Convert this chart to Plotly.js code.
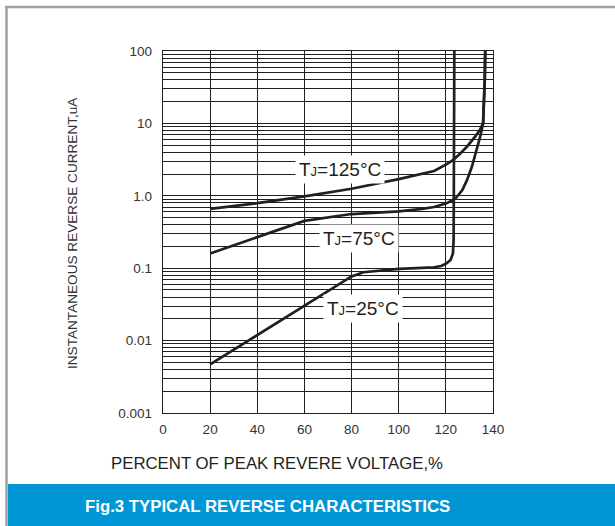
<!DOCTYPE html>
<html>
<head>
<meta charset="utf-8">
<script src="https://cdn.plot.ly/plotly-3.0.1.min.js"></script>
<style>
html,body{margin:0;padding:0;background:#fff;}
#chart{width:615px;height:526px;}
</style>
</head>
<body>
<div id="chart"></div>
<script>
// ---- data ----
var x125 = [20, 40, 60, 80, 100, 110, 115, 120, 123, 126, 129, 132.5, 134.5, 135.8, 136.2, 136.5, 136.7];
var y125 = [0.66, 0.79, 0.98, 1.25, 1.70, 2.0, 2.2, 2.7, 3.1, 3.8, 4.8, 6.6, 8.2, 10, 20, 40, 100];

var x75 = [20, 40, 60, 80, 100, 110, 115, 120, 124, 127, 129, 131, 132.5, 134.6, 135.8, 136.2, 136.5, 136.7];
var y75 = [0.16, 0.27, 0.45, 0.56, 0.61, 0.66, 0.70, 0.78, 0.91, 1.2, 1.66, 2.5, 3.7, 6.6, 10, 20, 40, 100];

var x25 = [20, 40, 60, 80, 85, 100, 110, 115, 118, 120, 122, 123, 123.3, 123.4, 123.5, 123.6];
var y25 = [0.0047, 0.012, 0.030, 0.077, 0.088, 0.098, 0.101, 0.103, 0.107, 0.115, 0.13, 0.16, 0.25, 1, 10, 100];

var xTicks = [0, 20, 40, 60, 80, 100, 120, 140];
var yDecades = [0.001, 0.01, 0.1, 1, 10, 100];
var yDecadeLabels = ['0.001', '0.01', '0.1', '1.0', '10', '100'];
var minorDigits = [2, 3, 4, 5, 6, 7, 8, 9];

var curveLabels = ['T<span style="font-size:13px">J</span>=125°C',
                   'T<span style="font-size:13px">J</span>=75°C',
                   'T<span style="font-size:13px">J</span>=25°C'];
var labelX = [75, 83, 85];
var labelY = [2.28, 0.255, 0.0275];

// grid positions for the log axis (decades plus 2..9 within each decade)
var yGridVals = [], yGridText = [];
yDecades.forEach(function (d, i) {
  yGridVals.push(d); yGridText.push(yDecadeLabels[i]);
  if (d < 100) minorDigits.forEach(function (m) { yGridVals.push(d * m); yGridText.push(''); });
});

var lineStyle = {color: '#231f20', width: 2.7};
var traces = [
  {x: x125, y: y125, mode: 'lines', line: lineStyle, hoverinfo: 'skip'},
  {x: x75, y: y75, mode: 'lines', line: lineStyle, hoverinfo: 'skip'},
  {x: x25, y: y25, mode: 'lines', line: lineStyle, hoverinfo: 'skip'}
];

var L = 163, R = 493, T = 51, B = 413, W = 615, H = 526;
function px(p) { return (p - L) / (R - L); }
function py(p) { return (B - p) / (B - T); }

var annotations = [];
curveLabels.forEach(function (t, i) {
  annotations.push({x: labelX[i], y: Math.log10(labelY[i]), xref: 'x', yref: 'y', text: t,
    showarrow: false, bgcolor: '#ffffff', borderpad: 3,
    font: {family: 'Liberation Sans, Arial, sans-serif', size: 19, color: '#231f20'}});
});
annotations.push({xref: 'paper', yref: 'paper', x: px(73), y: py(233), textangle: -90,
  text: 'INSTANTANEOUS REVERSE CURRENT,uA', showarrow: false, xanchor: 'center', yanchor: 'middle',
  font: {family: 'Liberation Sans, Arial, sans-serif', size: 13.6, color: '#333'}});
annotations.push({xref: 'paper', yref: 'paper', x: px(277), y: py(464),
  text: 'PERCENT OF PEAK REVERE VOLTAGE,%', showarrow: false, xanchor: 'center', yanchor: 'middle',
  font: {family: 'Liberation Sans, Arial, sans-serif', size: 16.8, color: '#231f20'}});
annotations.push({xref: 'paper', yref: 'paper', x: px(267), y: py(507),
  text: '<b>Fig.3 TYPICAL REVERSE CHARACTERISTICS</b>', showarrow: false, xanchor: 'center', yanchor: 'middle',
  font: {family: 'Liberation Sans, Arial, sans-serif', size: 16.8, color: '#ffffff'}});

var shapes = [
  {type: 'rect', xref: 'paper', yref: 'paper', x0: px(8), x1: px(W + 5), y0: py(H + 5), y1: py(484),
   fillcolor: '#0096d6', line: {width: 0}, layer: 'below'},
  {type: 'line', xref: 'paper', yref: 'paper', x0: px(5), x1: px(W + 5), y0: py(7), y1: py(7),
   line: {color: '#a0a0a0', width: 2.5}},
  {type: 'line', xref: 'paper', yref: 'paper', x0: px(6.5), x1: px(6.5), y0: py(6), y1: py(H + 5),
   line: {color: '#a0a0a0', width: 2.5}}
];

var layout = {
  width: W, height: H,
  margin: {l: L, r: W - R, t: T, b: H - B, pad: 0},
  paper_bgcolor: '#ffffff', plot_bgcolor: '#ffffff',
  showlegend: false,
  xaxis: {range: [0, 140], tickvals: xTicks, ticktext: xTicks.map(String),
    showgrid: true, gridcolor: '#231f20', gridwidth: 1, zeroline: false,
    showline: true, linecolor: '#231f20', linewidth: 1.2, mirror: true, ticks: '',
    ticklabelstandoff: 4,
    tickfont: {family: 'Liberation Sans, Arial, sans-serif', size: 13.5, color: '#333'}},
  yaxis: {type: 'log', range: [-3, 2], tickvals: yGridVals, ticktext: yGridText,
    showgrid: true, gridcolor: '#231f20', gridwidth: 1, zeroline: false,
    showline: true, linecolor: '#231f20', linewidth: 1.2, mirror: true, ticks: '',
    ticklabelstandoff: 7,
    tickfont: {family: 'Liberation Sans, Arial, sans-serif', size: 13.5, color: '#333'}},
  annotations: annotations,
  shapes: shapes
};

Plotly.newPlot('chart', traces, layout, {displayModeBar: false, staticPlot: true});
</script>
</body>
</html>
